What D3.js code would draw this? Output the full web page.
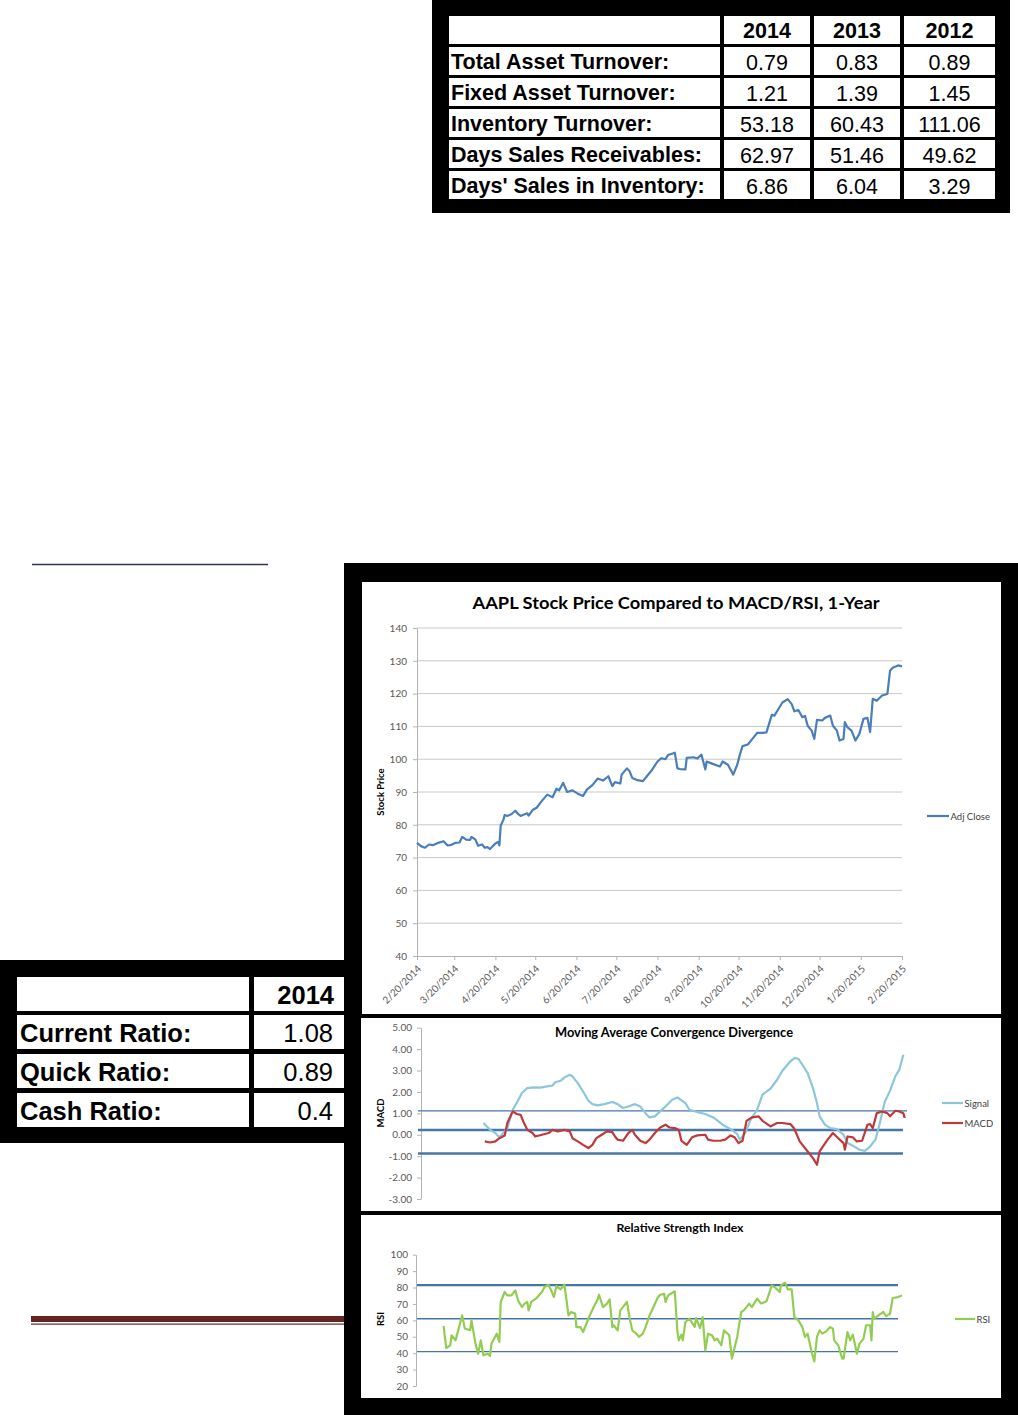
<!DOCTYPE html>
<html><head><meta charset="utf-8">
<script src="https://cdn.jsdelivr.net/npm/d3@7"></script>
<style>html,body{margin:0;padding:0;background:#fff}svg{display:block}</style>
</head><body>
<svg id="c" width="1018" height="1415"></svg>
<script>
// ---------------- DATA ----------------
const turnoverYears = ["2014", "2013", "2012"];
const turnoverLabels = ["Total Asset Turnover:", "Fixed Asset Turnover:", "Inventory Turnover:", "Days Sales Receivables:", "Days' Sales in Inventory:"];
const turnoverValues = [[0.79, 0.83, 0.89], [1.21, 1.39, 1.45], [53.18, 60.43, 111.06], [62.97, 51.46, 49.62], [6.86, 6.04, 3.29]];

const liquidityYears = ["2014"];
const liquidityLabels = ["Current Ratio:", "Quick Ratio:", "Cash Ratio:"];
const liquidityValues = [1.08, 0.89, 0.4];

const dateTicks = ["2014-02-20","2014-03-20","2014-04-20","2014-05-20","2014-06-20","2014-07-20","2014-08-20","2014-09-20","2014-10-20","2014-11-20","2014-12-20","2015-01-20","2015-02-20"];
const priceTicks = [40, 50, 60, 70, 80, 90, 100, 110, 120, 130, 140];
const macdTicks = [5, 4, 3, 2, 1, 0, -1, -2, -3];
const rsiTicks = [100, 90, 80, 70, 60, 50, 40, 30, 20];
const macdLevels = [1.12, 0.22, -0.87];
const rsiLevels = [81.5, 61, 41];

const adjClose = [["2014-02-20",74.5],["2014-02-23",73.5],["2014-02-26",73],["2014-03-01",74],["2014-03-04",73.8],["2014-03-08",74.5],["2014-03-12",75],["2014-03-15",73.7],["2014-03-18",73.9],["2014-03-21",74.5],["2014-03-24",74.6],["2014-03-26",76.3],["2014-03-29",75.5],["2014-04-01",75.4],["2014-04-02",76.3],["2014-04-05",75.5],["2014-04-07",73.6],["2014-04-10",74],["2014-04-12",73],["2014-04-14",73.2],["2014-04-16",72.6],["2014-04-18",73.5],["2014-04-20",74.3],["2014-04-22",74.8],["2014-04-23",73.7],["2014-04-24",79.8],["2014-04-26",81.5],["2014-04-27",83],["2014-04-29",82.7],["2014-05-02",83.2],["2014-05-05",84.3],["2014-05-07",83.3],["2014-05-09",82.7],["2014-05-12",83.2],["2014-05-14",83.5],["2014-05-15",82.8],["2014-05-18",84.5],["2014-05-21",85.2],["2014-05-25",87.3],["2014-05-29",89.2],["2014-06-02",88.4],["2014-06-05",91],["2014-06-07",90.5],["2014-06-10",92.8],["2014-06-13",90],["2014-06-17",90.5],["2014-06-21",89.5],["2014-06-25",88.8],["2014-06-28",90.8],["2014-07-02",92.1],["2014-07-06",94.1],["2014-07-10",93.5],["2014-07-14",94.8],["2014-07-17",91.8],["2014-07-19",93],["2014-07-23",92.6],["2014-07-24",95.3],["2014-07-28",97.2],["2014-07-30",96.3],["2014-08-01",94.3],["2014-08-05",93.6],["2014-08-09",93.3],["2014-08-12",94.8],["2014-08-16",96.8],["2014-08-20",99.3],["2014-08-23",100.3],["2014-08-26",100],["2014-08-28",101.3],["2014-09-01",101.8],["2014-09-02",102],["2014-09-04",97.2],["2014-09-06",97],["2014-09-10",96.9],["2014-09-11",100.4],["2014-09-16",100.6],["2014-09-19",100.2],["2014-09-22",101.4],["2014-09-25",96.9],["2014-09-26",99.3],["2014-10-01",98.5],["2014-10-06",97.8],["2014-10-08",99.3],["2014-10-12",98.3],["2014-10-16",95.3],["2014-10-19",98.3],["2014-10-21",101.4],["2014-10-23",104],["2014-10-27",104.5],["2014-10-31",106.5],["2014-11-03",108],["2014-11-07",108],["2014-11-10",108.2],["2014-11-14",113.5],["2014-11-16",113.3],["2014-11-19",115.3],["2014-11-22",117.3],["2014-11-26",118.3],["2014-11-29",116.8],["2014-12-01",114.6],["2014-12-04",115],["2014-12-07",112.8],["2014-12-09",113.2],["2014-12-11",110.2],["2014-12-14",108.7],["2014-12-16",106.2],["2014-12-18",112],["2014-12-22",111.8],["2014-12-24",112.6],["2014-12-28",113.3],["2014-12-30",110.2],["2015-01-02",108.7],["2015-01-04",105.7],["2015-01-07",106.2],["2015-01-08",111.3],["2015-01-10",109.7],["2015-01-13",108.7],["2015-01-16",105.7],["2015-01-19",107.8],["2015-01-22",112.3],["2015-01-25",112.6],["2015-01-27",108.3],["2015-01-29",118.4],["2015-02-01",117.8],["2015-02-05",119.4],["2015-02-09",119.9],["2015-02-11",127],["2015-02-13",127.9],["2015-02-17",128.6],["2015-02-20",128.3]];

const signal = [["2014-04-11",0.55],["2014-04-16",0.23],["2014-04-20",0.08],["2014-04-23",-0.12],["2014-04-26",0.08],["2014-04-29",0.31],["2014-05-03",1.17],["2014-05-06",1.48],["2014-05-10",1.95],["2014-05-14",2.18],["2014-05-18",2.21],["2014-05-24",2.2],["2014-05-29",2.26],["2014-06-02",2.3],["2014-06-04",2.45],["2014-06-08",2.52],["2014-06-11",2.68],["2014-06-15",2.8],["2014-06-17",2.73],["2014-06-21",2.41],["2014-06-25",2.02],["2014-06-29",1.59],["2014-07-02",1.43],["2014-07-06",1.37],["2014-07-11",1.43],["2014-07-17",1.53],["2014-07-21",1.43],["2014-07-25",1.25],["2014-07-29",1.32],["2014-08-03",1.43],["2014-08-07",1.32],["2014-08-11",1.01],["2014-08-14",0.81],["2014-08-18",0.86],["2014-08-22",1.09],["2014-08-26",1.32],["2014-08-31",1.64],["2014-09-04",1.74],["2014-09-10",1.48],["2014-09-13",1.17],["2014-09-19",1.06],["2014-09-25",0.97],["2014-10-01",0.81],["2014-10-08",0.47],["2014-10-15",0.23],["2014-10-19",0.03],["2014-10-21",-0.23],["2014-10-25",0.08],["2014-10-29",0.7],["2014-11-03",1.17],["2014-11-07",1.87],["2014-11-13",2.15],["2014-11-18",2.57],["2014-11-22",2.99],["2014-11-28",3.43],["2014-12-01",3.58],["2014-12-04",3.55],["2014-12-07",3.27],["2014-12-11",2.88],["2014-12-15",2.18],["2014-12-18",1.48],["2014-12-20",0.86],["2014-12-24",0.47],["2014-12-28",0.31],["2015-01-02",0.26],["2015-01-07",0],["2015-01-10",-0.39],["2015-01-14",-0.51],["2015-01-19",-0.7],["2015-01-23",-0.75],["2015-01-27",-0.55],["2015-01-31",-0.23],["2015-02-03",0.47],["2015-02-07",1.53],["2015-02-11",2.06],["2015-02-15",2.73],["2015-02-18",3.04],["2015-02-21",3.74]];

const macd = [["2014-04-12",-0.31],["2014-04-16",-0.36],["2014-04-20",-0.31],["2014-04-23",-0.16],["2014-04-27",-0.03],["2014-04-29",0.55],["2014-05-03",1.09],["2014-05-06",0.97],["2014-05-09",0.93],["2014-05-11",0.62],["2014-05-14",0.23],["2014-05-18",0.08],["2014-05-20",-0.08],["2014-05-25",0],["2014-05-30",0.08],["2014-06-02",0.23],["2014-06-06",0.16],["2014-06-11",0.23],["2014-06-15",0.16],["2014-06-17",-0.16],["2014-06-21",-0.31],["2014-06-25",-0.47],["2014-06-29",-0.62],["2014-07-02",-0.47],["2014-07-05",-0.16],["2014-07-09",0],["2014-07-13",0.16],["2014-07-17",0.12],["2014-07-19",-0.08],["2014-07-21",-0.23],["2014-07-25",-0.28],["2014-07-29",0.08],["2014-08-01",0.23],["2014-08-03",0],["2014-08-07",-0.28],["2014-08-11",-0.39],["2014-08-14",-0.23],["2014-08-18",0.08],["2014-08-22",0.34],["2014-08-26",0.47],["2014-08-29",0.34],["2014-09-02",0.31],["2014-09-05",0.23],["2014-09-07",-0.28],["2014-09-11",-0.47],["2014-09-15",-0.12],["2014-09-19",-0.03],["2014-09-25",0],["2014-09-27",-0.23],["2014-10-01",-0.28],["2014-10-06",-0.28],["2014-10-10",-0.23],["2014-10-14",-0.03],["2014-10-17",-0.12],["2014-10-20",-0.39],["2014-10-23",-0.28],["2014-10-26",0.65],["2014-10-30",0.81],["2014-11-04",0.86],["2014-11-07",0.65],["2014-11-13",0.39],["2014-11-18",0.55],["2014-11-22",0.55],["2014-11-28",0.5],["2014-12-01",0.28],["2014-12-05",-0.31],["2014-12-11",-0.78],["2014-12-15",-1.09],["2014-12-18",-1.4],["2014-12-20",-0.78],["2014-12-26",-0.23],["2014-12-30",0.08],["2015-01-03",-0.16],["2015-01-07",-0.39],["2015-01-08",-0.7],["2015-01-10",-0.08],["2015-01-14",-0.12],["2015-01-17",-0.31],["2015-01-21",-0.28],["2015-01-25",0.47],["2015-01-27",0.5],["2015-01-29",0.31],["2015-02-01",1.01],["2015-02-05",1.09],["2015-02-09",1.01],["2015-02-11",0.86],["2015-02-15",1.12],["2015-02-18",1.09],["2015-02-21",1.01],["2015-02-22",0.78]];

const rsi = [["2014-03-12",56.6],["2014-03-14",43.1],["2014-03-17",44.8],["2014-03-18",50.9],["2014-03-21",47.8],["2014-03-23",53.9],["2014-03-24",57],["2014-03-26",63],["2014-03-28",55],["2014-04-01",54],["2014-04-02",60],["2014-04-05",45.8],["2014-04-07",39.7],["2014-04-09",47.8],["2014-04-11",38.7],["2014-04-14",39.7],["2014-04-16",38.3],["2014-04-17",45.8],["2014-04-21",51.9],["2014-04-23",46.8],["2014-04-24",71.2],["2014-04-27",77.3],["2014-04-29",75.2],["2014-05-02",75.2],["2014-05-05",78.3],["2014-05-07",72.2],["2014-05-10",68.1],["2014-05-12",70.2],["2014-05-14",71.2],["2014-05-15",66.1],["2014-05-17",71.2],["2014-05-21",73.6],["2014-05-25",77.3],["2014-05-27",80.3],["2014-05-30",81.7],["2014-06-01",78.3],["2014-06-03",74.2],["2014-06-05",80.9],["2014-06-08",78.9],["2014-06-11",81.7],["2014-06-14",63],["2014-06-16",65.1],["2014-06-19",64.1],["2014-06-20",55.9],["2014-06-23",55.9],["2014-06-25",52.9],["2014-06-28",59],["2014-06-30",63],["2014-07-03",68.1],["2014-07-06",72.8],["2014-07-07",75.6],["2014-07-10",68.1],["2014-07-13",70.2],["2014-07-15",72.8],["2014-07-17",55.9],["2014-07-18",57],["2014-07-21",53.9],["2014-07-23",66.1],["2014-07-26",69.1],["2014-07-28",71.2],["2014-07-30",61.4],["2014-08-01",53.9],["2014-08-04",51.9],["2014-08-06",49.9],["2014-08-09",51.9],["2014-08-11",55.9],["2014-08-14",63],["2014-08-17",68.1],["2014-08-20",73.6],["2014-08-22",75.6],["2014-08-25",76.2],["2014-08-26",71.2],["2014-08-28",75.2],["2014-09-02",77.7],["2014-09-04",52.9],["2014-09-05",47.8],["2014-09-07",51.3],["2014-09-08",47.8],["2014-09-10",59],["2014-09-13",61],["2014-09-17",56],["2014-09-18",61.4],["2014-09-21",55.3],["2014-09-23",62],["2014-09-25",41.7],["2014-09-27",51.9],["2014-09-30",50.9],["2014-10-02",47.8],["2014-10-04",48.8],["2014-10-07",44.8],["2014-10-09",53.9],["2014-10-13",50.9],["2014-10-15",36.7],["2014-10-19",49.9],["2014-10-22",65.1],["2014-10-24",66.1],["2014-10-28",70.2],["2014-10-30",68.1],["2014-11-03",73.2],["2014-11-06",70.2],["2014-11-10",71.6],["2014-11-14",81.3],["2014-11-16",80.3],["2014-11-20",77.3],["2014-11-21",81.3],["2014-11-24",83],["2014-11-26",78.9],["2014-11-29",78.9],["2014-12-01",62],["2014-12-04",60],["2014-12-07",55.9],["2014-12-09",49.9],["2014-12-11",51.9],["2014-12-14",40.7],["2014-12-16",35],["2014-12-18",49.9],["2014-12-20",53.9],["2014-12-22",51.9],["2014-12-25",53.3],["2014-12-28",55.9],["2014-12-30",54.9],["2014-12-31",47.8],["2015-01-03",44.8],["2015-01-06",36.7],["2015-01-07",36.7],["2015-01-10",52.9],["2015-01-12",47.8],["2015-01-14",51.3],["2015-01-16",43.8],["2015-01-17",39.7],["2015-01-19",45.8],["2015-01-22",48.8],["2015-01-24",57],["2015-01-27",57],["2015-01-28",47.8],["2015-01-29",65.1],["2015-01-30",61],["2015-02-03",63.5],["2015-02-06",65.1],["2015-02-08",62.6],["2015-02-11",64],["2015-02-13",73.6],["2015-02-17",74.2],["2015-02-20",75.2]];

// ---------------- DRAW ----------------
const svg = d3.select("#c");
const CF = "Lato, 'Open Sans', 'DejaVu Sans', sans-serif";
const TF = "'Liberation Sans', Arial, sans-serif";
const parse = d3.timeParse("%Y-%m-%d");

// page rules (left side)
svg.append("line").attr("x1", 32).attr("x2", 268).attr("y1", 564.5).attr("y2", 564.5)
  .attr("stroke", "#30364a").attr("stroke-width", 1.5);
svg.append("rect").attr("x", 31).attr("y", 1316).attr("width", 314).attr("height", 6).attr("fill", "#632523");
svg.append("rect").attr("x", 31).attr("y", 1323.5).attr("width", 314).attr("height", 1.2).attr("fill", "#632523");

// ---- Top table ----
const tt = svg.append("g");
tt.append("rect").attr("x", 432).attr("y", 0).attr("width", 578).attr("height", 213).attr("fill", "#000");
const tColX = [449, 724, 814, 904], tColW = [271, 86, 86, 91];
const tRowY = [16, 47, 78, 109, 140, 171], tRowH = 28;
tRowY.forEach((ry, r) => {
  tColX.forEach((cx, c) => {
    tt.append("rect").attr("x", cx).attr("y", ry).attr("width", tColW[c]).attr("height", tRowH).attr("fill", "#fff");
  });
});
tt.selectAll("text.yr").data(turnoverYears).join("text").attr("class", "yr")
  .attr("x", (d, i) => tColX[i + 1] + tColW[i + 1] / 2).attr("y", tRowY[0] + 22)
  .attr("text-anchor", "middle").attr("font-family", TF).attr("font-weight", "bold").attr("font-size", 21.5).text(d => d);
tt.selectAll("text.lb").data(turnoverLabels).join("text").attr("class", "lb")
  .attr("x", 451).attr("y", (d, i) => tRowY[i + 1] + 22)
  .attr("font-family", TF).attr("font-weight", "bold").attr("font-size", 21.5).text(d => d);
turnoverValues.forEach((row, r) => {
  row.forEach((v, c) => {
    tt.append("text").attr("x", tColX[c + 1] + tColW[c + 1] / 2).attr("y", tRowY[r + 1] + 23)
      .attr("text-anchor", "middle").attr("font-family", TF).attr("font-size", 21.5).text(String(v));
  });
});

// ---- Left table ----
const lt = svg.append("g");
lt.append("rect").attr("x", 0).attr("y", 960).attr("width", 346).attr("height", 183).attr("fill", "#000");
const lColX = [17, 254], lColW = [232, 92];
const lRowY = [977, 1015, 1054, 1093], lRowH = 34;
lRowY.forEach(ry => lColX.forEach((cx, c) => lt.append("rect").attr("x", cx).attr("y", ry).attr("width", lColW[c]).attr("height", lRowH).attr("fill", "#fff")));
lt.selectAll("text.yr").data(liquidityYears).join("text").attr("class", "yr")
  .attr("x", 334).attr("y", lRowY[0] + 27).attr("text-anchor", "end")
  .attr("font-family", TF).attr("font-weight", "bold").attr("font-size", 25.5).text(d => d);
lt.selectAll("text.lb").data(liquidityLabels).join("text").attr("class", "lb")
  .attr("x", 20).attr("y", (d, i) => lRowY[i + 1] + 27)
  .attr("font-family", TF).attr("font-weight", "bold").attr("font-size", 25.5).text(d => d);
lt.selectAll("text.v").data(liquidityValues).join("text").attr("class", "v")
  .attr("x", 333).attr("y", (d, i) => lRowY[i + 1] + 27).attr("text-anchor", "end")
  .attr("font-family", TF).attr("font-size", 25.5).text(d => String(d));

// ---- Chart frame ----
svg.append("rect").attr("x", 344).attr("y", 563).attr("width", 674).attr("height", 852).attr("fill", "#000");
svg.append("rect").attr("x", 362).attr("y", 582).attr("width", 639).attr("height", 432).attr("fill", "#fff");
svg.append("rect").attr("x", 361).attr("y", 1018).attr("width", 640).attr("height", 193).attr("fill", "#fff");
svg.append("rect").attr("x", 361).attr("y", 1215).attr("width", 640).attr("height", 183).attr("fill", "#fff");

const x = d3.scaleTime().domain([parse("2014-02-20"), parse("2015-02-20")]).range([417, 902]);
const AX = "#b3b3b3", TXT = "#595959";

function styleAxis(g) {
  g.attr("font-family", CF).attr("font-size", 10);
  g.selectAll("path.domain").attr("stroke", AX);
  g.selectAll(".tick line").attr("stroke", AX);
  g.selectAll(".tick text").attr("fill", TXT);
}
function legend(y, x1, x2, color, label) {
  svg.append("line").attr("x1", x1).attr("x2", x2).attr("y1", y).attr("y2", y).attr("stroke", color).attr("stroke-width", 2.2);
  svg.append("text").attr("x", x2 + 1.5).attr("y", y + 3.5).attr("font-family", CF).attr("font-size", 9.5).attr("fill", "#404040").text(label);
}

// ---- Panel 1: price ----
const y1 = d3.scaleLinear().domain([40, 140]).range([956, 628]);
svg.append("g").selectAll("line").data(priceTicks.filter(d => d > 40)).join("line")
  .attr("x1", 417).attr("x2", 902).attr("y1", d => y1(d)).attr("y2", d => y1(d))
  .attr("stroke", "#c8c8c8").attr("stroke-width", 1);
svg.append("g").attr("transform", "translate(417,0)")
  .call(d3.axisLeft(y1).tickValues(priceTicks).tickSize(4).tickSizeOuter(0).tickPadding(6)).call(styleAxis);
const xa = svg.append("g").attr("transform", "translate(0,956)")
  .call(d3.axisBottom(x).tickValues(dateTicks.map(parse)).tickFormat(d3.timeFormat("%-m/%-d/%Y")).tickSize(4).tickSizeOuter(0))
  .call(styleAxis);
xa.selectAll(".tick text").attr("x", 0).attr("y", 0).attr("dy", "0.35em")
  .attr("text-anchor", "end").attr("transform", "translate(2,11) rotate(-45)");
const line1 = d3.line().x(d => x(parse(d[0]))).y(d => y1(d[1]));
svg.append("path").datum(adjClose).attr("d", line1).attr("fill", "none")
  .attr("stroke", "#4a7ebb").attr("stroke-width", 2.2).attr("stroke-linejoin", "round");
svg.append("text").attr("x", 676).attr("y", 609).attr("text-anchor", "middle")
  .attr("font-family", CF).attr("font-weight", "bold").attr("font-size", 17)
  .attr("textLength", 407).attr("lengthAdjust", "spacingAndGlyphs")
  .text("AAPL Stock Price Compared to MACD/RSI, 1-Year");
svg.append("text").attr("transform", "translate(384,792) rotate(-90)").attr("text-anchor", "middle")
  .attr("font-family", CF).attr("font-weight", "bold").attr("font-size", 9.5).text("Stock Price");
legend(816, 927, 949, "#4a7ebb", "Adj Close");

// ---- Panel 2: MACD ----
const y2 = d3.scaleLinear().domain([-3, 5]).range([1199, 1027.7]);
svg.append("g").attr("transform", "translate(421,0)")
  .call(d3.axisLeft(y2).tickValues(macdTicks).tickFormat(d => d.toFixed(2)).tickSize(4).tickSizeOuter(0).tickPadding(5)).call(styleAxis);
const macdLineW = [1.2, 2.5, 2.5], macdLineEnd = [907, 903, 903];
svg.append("g").selectAll("line").data(macdLevels).join("line")
  .attr("x1", 418).attr("x2", (d, i) => macdLineEnd[i]).attr("y1", d => y2(d)).attr("y2", d => y2(d))
  .attr("stroke", "#4776a6").attr("stroke-width", (d, i) => macdLineW[i]);
const line2 = d3.line().x(d => x(parse(d[0]))).y(d => y2(d[1]));
svg.append("path").datum(signal).attr("d", line2).attr("fill", "none")
  .attr("stroke", "#8cc6da").attr("stroke-width", 2.2).attr("stroke-linejoin", "round");
svg.append("path").datum(macd).attr("d", line2).attr("fill", "none")
  .attr("stroke", "#c0393a").attr("stroke-width", 2.2).attr("stroke-linejoin", "round");
svg.append("text").attr("x", 674).attr("y", 1037).attr("text-anchor", "middle")
  .attr("font-family", CF).attr("font-weight", "bold").attr("font-size", 12.5)
  .attr("textLength", 238).attr("lengthAdjust", "spacingAndGlyphs")
  .text("Moving Average Convergence Divergence");
svg.append("text").attr("transform", "translate(384,1113) rotate(-90)").attr("text-anchor", "middle")
  .attr("font-family", CF).attr("font-weight", "bold").attr("font-size", 9.5).text("MACD");
legend(1103, 942, 963, "#8cc6da", "Signal");
legend(1123, 942, 963, "#c0393a", "MACD");

// ---- Panel 3: RSI ----
const y3 = d3.scaleLinear().domain([20, 100]).range([1386, 1254.7]);
svg.append("g").attr("transform", "translate(416,0)")
  .call(d3.axisLeft(y3).tickValues(rsiTicks).tickSize(3).tickSizeOuter(0).tickPadding(5)).call(styleAxis);
const rsiLineW = [2.2, 1.5, 1.3];
svg.append("g").selectAll("line").data(rsiLevels).join("line")
  .attr("x1", 417).attr("x2", 898).attr("y1", d => y3(d)).attr("y2", d => y3(d))
  .attr("stroke", "#4776a6").attr("stroke-width", (d, i) => rsiLineW[i]);
const line3 = d3.line().x(d => x(parse(d[0]))).y(d => y3(d[1]));
svg.append("path").datum(rsi).attr("d", line3).attr("fill", "none")
  .attr("stroke", "#92cd52").attr("stroke-width", 2.2).attr("stroke-linejoin", "round");
svg.append("text").attr("x", 680).attr("y", 1232).attr("text-anchor", "middle")
  .attr("font-family", CF).attr("font-weight", "bold").attr("font-size", 11.5)
  .attr("textLength", 127).attr("lengthAdjust", "spacingAndGlyphs")
  .text("Relative Strength Index");
svg.append("text").attr("transform", "translate(384,1319) rotate(-90)").attr("text-anchor", "middle")
  .attr("font-family", CF).attr("font-weight", "bold").attr("font-size", 9.5).text("RSI");
legend(1319, 955, 975, "#92cd52", "RSI");
</script>
</body></html>
